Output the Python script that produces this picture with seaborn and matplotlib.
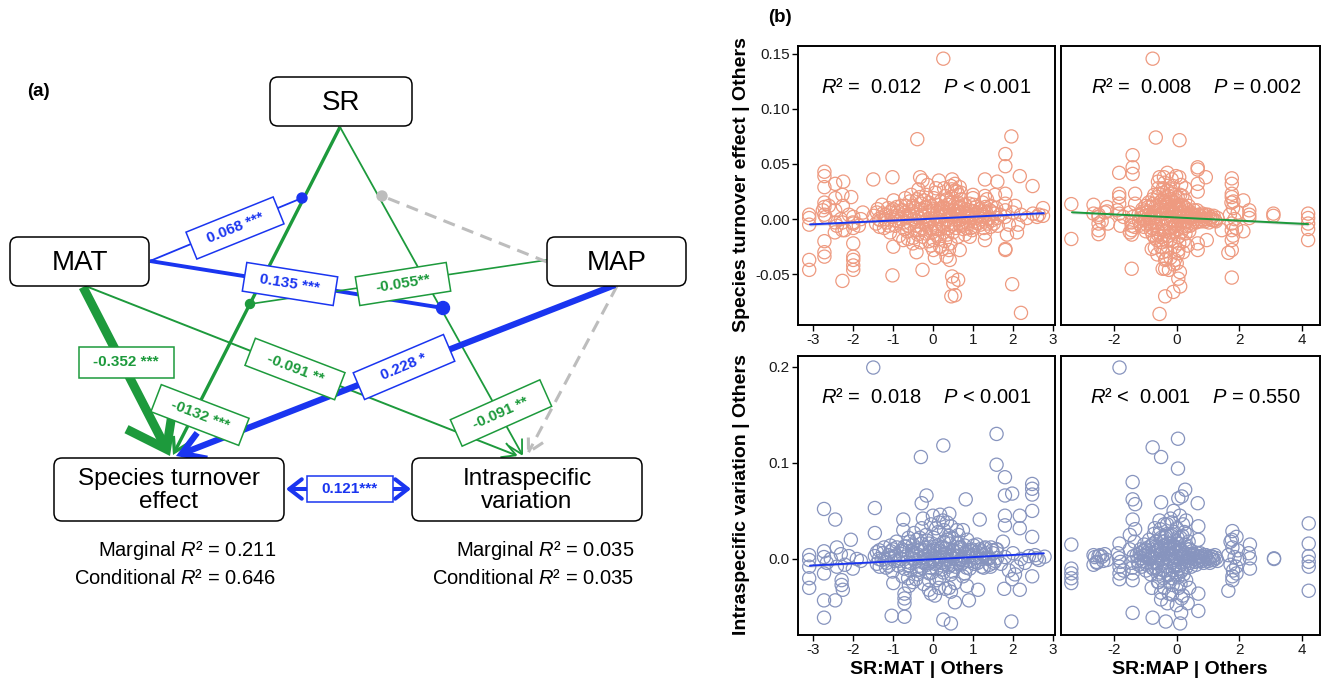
import numpy as np
import pandas as pd
import matplotlib
matplotlib.use("Agg")
import matplotlib.pyplot as plt
import matplotlib.transforms as mtransforms
from matplotlib.patches import FancyBboxPatch, FancyArrowPatch, Rectangle, Circle
import seaborn as sns

# ---------------- data ----------------
# panel (a): path model
node_names = ["SR", "MAT", "MAP", "Species turnover\neffect", "Intraspecific\nvariation"]
path_labels = ["0.068 ***", "0.135 ***", "-0.055**", "-0.352 ***", "-0132 ***",
               "-0.091 **", "0.228 *", "-0.091 **", "0.121***"]
marginal_r2 = ["0.211", "0.035"]
conditional_r2 = ["0.646", "0.035"]

# panel (b): added-variable plots, (x, y)
tl_pts = [
    (0.26, 0.1455), (-0.39, 0.0725), (1.96, 0.075), (1.81, 0.059), (1.81, 0.048), (2.17, 0.039),
    (2.49, 0.030), (1.61, 0.034), (1.30, 0.036), (-2.71, 0.043), (-2.71, 0.039), (-2.71, 0.029),
    (-2.44, 0.032), (-2.24, 0.034), (-2.26, 0.022), (-2.04, 0.020), (-1.49, 0.036), (-1.01, 0.038),
    (-0.32, 0.038), (-0.26, 0.035), (0.48, 0.036), (0.55, 0.032), (0.47, 0.027), (0.60, 0.025),
    (-3.09, 0.004), (-3.09, 0.001), (-3.09, -0.005), (-3.09, -0.037), (-3.09, -0.046),
    (-2.71, -0.020), (-2.71, -0.030), (-2.71, -0.034), (-2.26, -0.056),
    (-1.99, -0.022), (-1.99, -0.034), (-1.99, -0.037), (-1.99, -0.042), (-1.99, -0.046),
    (-1.01, -0.051), (-0.26, -0.046), (0.48, -0.052), (0.51, -0.058), (0.63, -0.055),
    (0.46, -0.070), (0.55, -0.069), (1.81, -0.027), (1.81, -0.028), (1.98, -0.059), (2.2, -0.085),
    (2.13, -0.005), (2.5, 0.005), (2.6, 0.002), (2.65, 0.004), (2.75, 0.010), (2.75, 0.003),
    (1.81, 0.023), (1.81, 0.014), (1.81, 0.008), (1.3, -0.019), (1.3, -0.013), (0.98, -0.010),
    (0.92, -0.016), (-0.99, -0.025), (-0.74, -0.019), (-0.41, -0.030), (0.01, -0.028),
    (0.18, -0.025), (0.34, -0.034), (0.42, -0.037), (0.67, -0.028),
    (-2.71, 0.015), (-2.71, 0.011), (-2.71, 0.004), (-2.68, 0.002), (-2.44, 0.019), (-2.44, 0.008),
    (-2.44, -0.003), (-1.99, 0.002), (-1.99, -0.004), (-1.99, -0.008), (-2.26, -0.003),
    (-2.26, -0.010), (-1.8, 0.0), (-1.75, 0.006), (0.67, 0.029), (0.70, 0.024), (1.0, 0.022),
    (1.0, 0.019), (1.3, 0.021), (1.35, 0.018), (1.55, 0.022),
    (-1.48, 0.003), (-1.42, -0.004), (-1.38, 0.009), (-1.31, -0.001), (-1.27, 0.013), (-1.22, -0.008),
    (-1.18, 0.004), (-1.12, 0.010), (-1.07, -0.012), (-1.03, 0.002), (-0.98, 0.017), (-0.94, -0.006),
    (-0.88, 0.007), (-0.84, -0.015), (-0.79, 0.012), (-0.73, -0.003), (-0.69, 0.019), (-0.64, -0.011),
    (-0.58, 0.005), (-0.54, 0.022), (-0.49, -0.017), (-0.44, 0.010), (-0.41, -0.006), (-0.36, 0.027),
    (-0.31, -0.021), (-0.27, 0.004), (-0.22, 0.017), (-0.18, -0.013), (-0.13, 0.031), (-0.08, -0.002),
    (-0.04, 0.012), (0.02, -0.019), (0.06, 0.024), (0.11, 0.006), (0.14, -0.009), (0.19, 0.016),
    (0.23, -0.027), (0.28, 0.003), (0.31, 0.021), (0.36, -0.014), (0.41, 0.008), (0.44, -0.022),
    (0.49, 0.015), (0.53, -0.004), (0.58, 0.011), (0.62, -0.016), (0.67, 0.005), (0.71, 0.018),
    (0.76, -0.009), (0.82, 0.009), (0.87, -0.004), (0.91, 0.014), (0.96, 0.001), (1.03, -0.007),
    (1.08, 0.011), (1.14, 0.003), (1.19, -0.005), (1.24, 0.015), (1.29, 0.002), (1.36, -0.004),
    (1.42, 0.008), (1.48, -0.001), (1.55, 0.005), (1.62, -0.006), (1.68, 0.004),
    (-0.35, 0.001), (-0.12, -0.004), (0.08, 0.001), (0.27, -0.006), (0.47, 0.002), (-0.55, 0.003),
    (0.65, -0.001), (0.2, 0.009), (-0.2, 0.008), (0.0, 0.005), (0.38, 0.013), (-0.45, -0.01),
    (0.55, 0.026), (-0.05, -0.024), (0.1, -0.015), (0.3, -0.02), (-0.25, -0.016), (0.75, 0.006),
    (-0.7, 0.006), (0.95, -0.008),
    (-2.75, 0.008), (-2.6, 0.012), (-2.4, -0.006), (-2.3, 0.0), (-2.2, -0.01), (-2.1, 0.004),
    (-2.0, -0.003), (-1.85, -0.006), (-2.45, -0.012), (-2.25, 0.012),
    (1.8, 0.002), (1.9, -0.005), (2.0, 0.006), (2.1, -0.012), (2.2, 0.004), (2.35, 0.001),
    (1.85, -0.014), (2.05, 0.012),
    (-1.35, 0.0), (-1.25, 0.005), (-1.15, -0.003), (-1.05, 0.007), (-0.95, -0.001), (-0.9, 0.011),
    (-0.8, 0.0), (-0.75, 0.008), (-0.65, 0.002), (-0.6, -0.006), (-0.5, 0.012), (-0.48, 0.0),
    (-0.4, 0.018), (-0.38, -0.014), (-0.3, 0.009), (-0.28, -0.008), (-0.22, 0.002), (-0.17, 0.022),
    (-0.15, -0.006), (-0.1, 0.015), (-0.02, -0.012), (0.02, 0.019), (0.05, -0.005), (0.12, 0.013),
    (0.16, -0.018), (0.18, 0.002), (0.24, 0.011), (0.26, -0.012), (0.33, 0.006), (0.35, 0.018),
    (0.39, -0.008), (0.43, 0.004), (0.47, 0.02), (0.5, -0.012), (0.52, 0.008), (0.57, -0.008),
    (0.6, 0.003), (0.63, 0.015), (0.69, -0.006), (0.72, 0.01), (0.78, 0.002), (0.8, -0.014),
    (0.85, 0.005), (0.9, -0.002), (0.93, 0.008), (1.0, 0.004), (1.05, -0.002), (1.1, 0.006),
    (1.17, 0.009), (1.22, 0.0), (1.27, -0.008), (1.33, 0.006), (1.4, 0.001), (1.45, 0.012),
    (1.52, -0.004), (1.58, 0.01), (-0.58, 0.016), (-0.62, -0.018), (0.08, 0.028), (0.28, 0.028),
    (-0.1, -0.02), (0.4, -0.028), (-0.33, 0.02), (0.15, 0.035), (0.45, 0.03), (-0.5, -0.022),
    (0.64, 0.022), (0.05, -0.035),
    (-1.4, 0.006), (-1.33, -0.007), (-1.2, 0.0), (-1.1, -0.006), (-1.0, 0.009), (-0.92, 0.003),
    (-0.86, -0.002), (-0.77, 0.004), (-0.71, -0.009), (-0.67, 0.012), (-0.56, -0.004), (-0.52, 0.007),
    (-0.43, -0.002), (-0.39, 0.004), (-0.34, -0.01), (-0.29, 0.014), (-0.24, -0.003), (-0.19, 0.011),
    (-0.14, 0.0), (-0.09, 0.007), (-0.06, -0.008), (0.0, 0.0), (0.04, 0.009), (0.09, -0.009),
    (0.13, 0.0), (0.17, 0.007), (0.21, -0.004), (0.25, 0.004), (0.3, 0.01), (0.34, 0.0),
    (0.37, -0.005), (0.42, 0.015), (0.46, -0.006), (0.51, 0.004), (0.56, 0.0), (0.61, 0.007),
    (0.66, 0.011), (0.7, 0.0), (0.74, -0.004), (0.79, 0.013), (0.84, -0.008), (0.88, 0.002),
    (0.97, 0.007), (1.02, 0.013), (1.07, 0.001), (1.12, -0.004), (1.2, 0.007), (1.26, 0.004),
    (1.31, 0.011), (1.38, 0.0), (1.44, -0.007), (1.5, 0.006), (1.6, 0.001),
]
tr_pts = [
    (-0.77, 0.1455), (-0.67, 0.074), (0.09, 0.0716), (-1.41, 0.058), (-1.41, 0.047), (-1.41, 0.041),
    (-1.84, 0.042), (0.67, 0.047), (0.67, 0.045), (0.93, 0.038), (0.67, 0.032), (0.67, 0.025),
    (1.76, 0.037), (1.76, 0.032), (1.76, 0.023), (1.76, 0.020), (1.81, 0.016), (2.13, 0.017),
    (2.32, 0.008), (2.32, 0.004), (2.32, 0.001), (3.09, 0.005), (3.09, 0.003),
    (4.2, 0.005), (4.2, 0.001), (4.2, -0.004), (4.2, -0.009), (4.2, -0.019),
    (-3.37, 0.0136), (-3.37, -0.018), (-2.66, 0.013), (-2.66, 0.005), (-2.5, 0.002), (-2.5, -0.004),
    (-2.5, -0.010), (-2.5, -0.0136), (-2.23, 0.011), (-2.23, 0.007), (-1.84, 0.023), (-1.84, 0.020),
    (-1.84, 0.014), (-1.84, 0.005), (-1.33, 0.023), (-1.33, 0.014), (-1.44, -0.010), (-1.44, -0.006),
    (-1.44, -0.014), (-1.44, -0.045), (-0.80, -0.027), (-0.70, -0.017), (-0.48, -0.021),
    (-0.37, -0.037), (-0.37, -0.045), (-0.06, -0.037), (0.0, -0.040), (0.05, -0.028),
    (0.05, -0.054), (0.11, -0.061), (-0.11, -0.066), (-0.37, -0.070), (-0.55, -0.086),
    (0.67, -0.022), (0.67, -0.028), (0.96, -0.019), (1.76, -0.010), (1.76, -0.019), (1.65, -0.0305),
    (1.76, -0.028), (1.76, -0.053), (2.13, -0.011), (1.44, -0.010),
    (-1.22, 0.004), (-1.16, -0.005), (-1.1, 0.009), (-1.04, -0.001), (-0.99, -0.011), (-0.95, 0.006),
    (-0.9, 0.015), (-0.86, -0.004), (-0.81, 0.011), (-0.77, -0.014), (-0.72, 0.022), (-0.68, 0.002),
    (-0.63, -0.019), (-0.59, 0.028), (-0.55, 0.008), (-0.51, -0.025), (-0.47, 0.017), (-0.43, -0.007),
    (-0.39, 0.033), (-0.35, 0.001), (-0.31, -0.029), (-0.27, 0.021), (-0.23, -0.012), (-0.19, 0.027),
    (-0.15, 0.004), (-0.11, -0.02), (-0.07, 0.015), (-0.03, -0.004), (0.01, 0.009), (0.05, -0.016),
    (0.09, 0.003), (0.13, 0.013), (0.18, -0.007), (0.23, 0.006), (0.28, -0.013), (0.33, 0.004),
    (0.38, 0.012), (0.43, -0.006), (0.49, 0.002), (0.55, 0.008), (0.62, -0.003), (0.7, 0.004),
    (0.78, -0.002), (0.86, 0.003), (0.95, 0.0), (1.03, -0.003), (1.12, 0.002), (1.22, -0.001),
    (1.3, 0.001),
    (-0.52, 0.0), (-0.33, 0.011), (-0.12, -0.001), (0.08, 0.005), (-0.42, 0.024), (-0.22, -0.019),
    (0.0, -0.009), (0.18, 0.021), (-0.62, -0.009), (0.3, 0.002), (-0.34, -0.036), (-0.1, -0.041),
    (0.04, -0.031), (-0.25, -0.046), (-0.02, 0.039), (-0.41, 0.038), (-0.6, 0.034), (0.14, 0.031),
    (-0.16, 0.036), (-0.28, 0.008), (-0.05, 0.022), (0.22, -0.02), (-0.7, -0.026), (0.35, -0.024),
    (-0.45, -0.045), (0.1, -0.048),
    (-2.5, 0.004), (-2.4, -0.002), (-2.3, 0.006), (-2.2, -0.004), (-1.9, 0.008), (-1.8, -0.006),
    (-1.7, 0.002), (-1.5, 0.006), (-1.45, -0.003), (-1.4, 0.002), (-1.35, -0.007), (-1.5, -0.012),
    (1.7, 0.004), (1.75, -0.004), (1.8, 0.01), (1.85, 0.0), (1.9, -0.008), (1.8, -0.015),
    (1.75, 0.015), (1.95, 0.006),
    (-1.2, -0.002), (-1.12, 0.005), (-1.05, -0.007), (-1.0, 0.012), (-0.92, -0.002), (-0.88, 0.004),
    (-0.83, -0.01), (-0.78, 0.018), (-0.74, 0.006), (-0.7, -0.006), (-0.66, 0.012), (-0.62, 0.02),
    (-0.57, -0.012), (-0.54, 0.015), (-0.5, -0.016), (-0.46, 0.005), (-0.44, 0.028), (-0.4, -0.015),
    (-0.37, 0.016), (-0.33, -0.02), (-0.3, 0.026), (-0.28, -0.004), (-0.24, 0.013), (-0.2, -0.008),
    (-0.18, 0.018), (-0.14, -0.012), (-0.12, 0.03), (-0.08, 0.006), (-0.06, -0.025), (-0.02, 0.017),
    (0.02, -0.002), (0.06, 0.012), (0.08, -0.022), (0.11, 0.022), (0.15, -0.002), (0.2, 0.012),
    (0.24, -0.008), (0.27, 0.017), (0.32, -0.006), (0.36, 0.008), (0.4, -0.011), (0.45, 0.006),
    (0.5, -0.004), (0.58, 0.003), (0.65, 0.008), (0.74, 0.0), (0.82, 0.005), (0.9, -0.002),
    (1.0, 0.004), (1.08, 0.0), (1.18, 0.003), (1.25, -0.002), (-0.55, 0.038), (-0.3, 0.042),
    (-0.2, -0.035), (0.2, -0.03), (-0.62, -0.032), (0.27, 0.028), (-0.45, -0.03), (0.08, 0.038),
    (-1.15, 0.001), (-1.08, 0.007), (-1.02, 0.003), (-0.96, -0.005), (-0.91, 0.011), (-0.85, 0.001),
    (-0.79, -0.008), (-0.75, 0.014), (-0.71, 0.001), (-0.67, -0.003), (-0.64, 0.007), (-0.6, -0.014),
    (-0.56, 0.023), (-0.53, 0.004), (-0.49, 0.011), (-0.45, -0.01), (-0.41, 0.005), (-0.38, 0.02),
    (-0.36, -0.011), (-0.32, 0.006), (-0.29, 0.015), (-0.26, -0.015), (-0.22, 0.009), (-0.18, -0.002),
    (-0.16, 0.023), (-0.13, 0.009), (-0.09, -0.007), (-0.05, 0.011), (-0.01, 0.002), (0.03, 0.02),
    (0.07, -0.006), (0.1, 0.009), (0.14, -0.012), (0.17, 0.007), (0.21, 0.002), (0.25, -0.003),
    (0.29, 0.01), (0.34, -0.002), (0.39, 0.005), (0.44, 0.001), (0.52, 0.004), (0.6, 0.0),
    (0.68, -0.002), (0.76, 0.003), (0.84, 0.0), (0.93, 0.004), (1.05, 0.001), (1.15, -0.001),
]
bl_pts = [
    (-1.49, 0.199), (1.59, 0.130), (0.26, 0.118), (-0.30, 0.106), (1.59, 0.098), (1.80, 0.085),
    (1.98, 0.068), (1.80, 0.066), (2.48, 0.078), (2.48, 0.073), (2.48, 0.067), (2.48, 0.050),
    (2.48, 0.023), (2.48, -0.018), (2.17, 0.045), (2.17, 0.032), (1.80, 0.045), (1.80, 0.035),
    (0.82, 0.062), (-0.16, 0.066), (-0.28, 0.058), (-1.45, 0.053), (-1.45, 0.027), (-2.72, 0.052),
    (-2.44, 0.041), (-2.05, 0.020), (-3.09, 0.004), (-3.09, -0.001), (-3.09, -0.008), (-3.09, -0.020),
    (-3.09, -0.030), (-2.72, -0.015), (-2.72, -0.043), (-2.72, -0.061), (-2.44, -0.043),
    (-2.28, -0.022), (-2.28, -0.027), (-2.25, -0.032), (-1.03, -0.059), (-0.71, -0.060),
    (-0.71, -0.036), (-0.71, -0.041), (-0.71, -0.046), (-0.99, -0.025), (-0.05, -0.036),
    (0.26, -0.063), (0.45, -0.067), (0.55, -0.045), (0.90, -0.043), (1.13, -0.032), (1.78, -0.031),
    (1.96, -0.065), (2.17, -0.032), (1.98, -0.021), (2.79, 0.0024), (2.59, 0.0007), (2.65, -0.001),
    (2.55, 0.004), (-0.74, 0.041), (-0.74, 0.030), (1.17, 0.041), (0.41, 0.047), (0.18, 0.046),
    (-2.72, 0.008), (-2.72, 0.002), (-2.65, -0.004), (-2.55, 0.0), (-2.4, 0.012), (-2.3, 0.005),
    (-2.2, -0.006), (-2.1, 0.003), (-2.0, -0.01), (-1.9, 0.0), (-1.8, -0.002), (-2.4, -0.008),
    (1.6, 0.01), (1.7, -0.005), (1.8, 0.002), (1.9, -0.012), (2.0, 0.006), (2.1, -0.008),
    (2.2, 0.0), (2.3, -0.004), (2.4, 0.003), (1.75, 0.018), (2.05, -0.016),
    (-1.45, 0.003), (-1.4, -0.005), (-1.34, 0.009), (-1.28, -0.001), (-1.22, 0.012), (-1.17, -0.009),
    (-1.11, 0.004), (-1.06, 0.014), (-1.01, -0.013), (-0.96, 0.002), (-0.91, 0.018), (-0.86, -0.007),
    (-0.81, 0.008), (-0.76, -0.018), (-0.71, 0.013), (-0.66, -0.003), (-0.61, 0.022), (-0.56, -0.012),
    (-0.51, 0.006), (-0.47, 0.027), (-0.42, -0.021), (-0.37, 0.011), (-0.33, -0.007), (-0.28, 0.032),
    (-0.23, -0.026), (-0.19, 0.004), (-0.14, 0.019), (-0.09, -0.015), (-0.05, 0.036), (0.0, -0.002),
    (0.04, 0.013), (0.09, -0.022), (0.13, 0.028), (0.18, 0.006), (0.22, -0.011), (0.27, 0.018),
    (0.31, -0.031), (0.36, 0.003), (0.4, 0.024), (0.45, -0.016), (0.5, 0.009), (0.55, -0.025),
    (0.6, 0.017), (0.65, -0.004), (0.7, 0.012), (0.75, -0.018), (0.8, 0.006), (0.86, 0.02),
    (0.92, -0.01), (0.98, 0.01), (1.04, -0.005), (1.1, 0.015), (1.16, 0.002), (1.22, -0.008),
    (1.28, 0.011), (1.34, 0.001), (1.41, -0.006), (1.48, 0.009), (1.55, -0.002),
    (-0.3, 0.001), (-0.1, -0.004), (0.1, 0.002), (0.3, -0.005), (0.5, 0.001), (-0.5, 0.004),
    (0.7, -0.001), (0.2, 0.012), (-0.2, 0.009), (0.05, 0.006), (0.35, 0.038), (-0.4, -0.012),
    (0.6, 0.03), (-0.1, -0.032), (0.15, -0.03), (0.45, -0.034), (-0.25, 0.042), (0.25, 0.04),
    (0.0, 0.045), (-0.6, -0.028), (0.85, -0.028), (0.75, 0.03),
    (-1.35, 0.0), (-1.25, 0.006), (-1.15, -0.004), (-1.05, 0.008), (-0.95, -0.002), (-0.9, 0.012),
    (-0.8, 0.0), (-0.75, 0.009), (-0.65, 0.003), (-0.6, -0.007), (-0.5, 0.015), (-0.48, 0.0),
    (-0.4, 0.02), (-0.38, -0.016), (-0.3, 0.01), (-0.28, -0.009), (-0.22, 0.002), (-0.17, 0.025),
    (-0.15, -0.006), (-0.1, 0.016), (-0.02, -0.014), (0.02, 0.022), (0.05, -0.005), (0.12, 0.014),
    (0.16, -0.02), (0.18, 0.002), (0.24, 0.012), (0.26, -0.014), (0.33, 0.006), (0.35, 0.02),
    (0.39, -0.008), (0.43, 0.004), (0.47, 0.022), (0.5, -0.013), (0.52, 0.008), (0.57, -0.008),
    (0.6, 0.003), (0.63, 0.016), (0.69, -0.006), (0.72, 0.01), (0.78, 0.002), (0.8, -0.015),
    (0.85, 0.005), (0.9, -0.002), (0.93, 0.009), (1.0, 0.004), (1.05, -0.003), (1.1, 0.007),
    (1.17, 0.01), (1.22, 0.0), (1.27, -0.009), (1.33, 0.006), (1.4, 0.001), (1.45, 0.012),
    (1.52, -0.004), (1.58, 0.01), (-0.58, 0.018), (-0.62, -0.02), (0.08, 0.032), (0.28, 0.03),
    (-0.1, -0.022), (0.4, -0.03), (-0.33, 0.022), (0.15, 0.038), (0.45, 0.034), (-0.5, -0.024),
    (0.64, 0.025), (0.05, -0.038),
    (-1.4, 0.007), (-1.33, -0.008), (-1.2, 0.0), (-1.1, -0.007), (-1.0, 0.01), (-0.92, 0.004),
    (-0.86, -0.002), (-0.77, 0.005), (-0.71, -0.01), (-0.67, 0.013), (-0.56, -0.004), (-0.52, 0.008),
    (-0.43, -0.002), (-0.39, 0.005), (-0.34, -0.011), (-0.29, 0.016), (-0.24, -0.003), (-0.19, 0.012),
    (-0.14, 0.0), (-0.09, 0.008), (-0.06, -0.009), (0.0, 0.0), (0.04, 0.01), (0.09, -0.01),
    (0.13, 0.0), (0.17, 0.008), (0.21, -0.004), (0.25, 0.004), (0.3, 0.011), (0.34, 0.0),
    (0.37, -0.006), (0.42, 0.016), (0.46, -0.006), (0.51, 0.004), (0.56, 0.0), (0.61, 0.008),
    (0.66, 0.012), (0.7, 0.0), (0.74, -0.004), (0.79, 0.014), (0.84, -0.009), (0.88, 0.002),
    (0.97, 0.008), (1.02, 0.014), (1.07, 0.001), (1.12, -0.004), (1.2, 0.008), (1.26, 0.004),
    (1.31, 0.012), (1.38, 0.0), (1.44, -0.008), (1.5, 0.006), (1.6, 0.001),
]
br_pts = [
    (-1.83, 0.199), (0.04, 0.125), (-0.77, 0.116), (-0.50, 0.106), (0.04, 0.094), (-1.41, 0.080),
    (-1.41, 0.062), (-1.33, 0.057), (-1.41, 0.041), (-1.33, 0.031), (0.27, 0.072), (0.16, 0.065),
    (0.05, 0.063), (0.67, 0.058), (-0.50, 0.059), (4.22, 0.037), (4.22, 0.016), (4.22, 0.003),
    (4.22, -0.003), (4.22, -0.008), (4.22, -0.033), (3.11, 0.0007), (3.11, 0.0),
    (1.78, 0.029), (1.91, 0.023), (1.76, 0.020), (2.34, 0.015), (2.34, 0.0007), (2.34, -0.010),
    (1.65, -0.033), (1.78, -0.018), (1.78, -0.022), (1.91, -0.015),
    (-3.37, 0.015), (-3.37, -0.010), (-3.37, -0.015), (-3.37, -0.020), (-3.37, -0.025),
    (-2.66, 0.004), (-2.66, -0.006), (-2.39, 0.0024), (-2.23, -0.001), (-2.5, 0.003), (-2.55, -0.004),
    (-1.83, 0.016), (-1.83, -0.008), (-1.83, -0.015), (-1.83, -0.021), (-1.7, -0.012),
    (-1.41, -0.015), (-1.41, -0.022), (-1.41, -0.056), (-0.77, -0.061), (-0.35, -0.065),
    (0.11, -0.067), (0.14, -0.056), (0.69, -0.054), (0.69, -0.036), (0.69, 0.034), (0.69, 0.020),
    (-0.5, -0.035), (-0.15, -0.037), (0.15, -0.041), (0.35, -0.046),
    (-1.28, 0.004), (-1.22, -0.006), (-1.16, 0.01), (-1.1, -0.002), (-1.04, 0.015), (-0.98, -0.012),
    (-0.93, 0.005), (-0.88, 0.02), (-0.83, -0.016), (-0.78, 0.002), (-0.73, 0.026), (-0.68, -0.009),
    (-0.63, 0.012), (-0.58, -0.024), (-0.53, 0.031), (-0.49, -0.003), (-0.44, 0.018), (-0.4, -0.03),
    (-0.35, 0.008), (-0.31, 0.036), (-0.27, -0.017), (-0.22, 0.003), (-0.18, 0.024), (-0.13, -0.027),
    (-0.09, 0.013), (-0.05, -0.006), (0.0, 0.032), (0.04, -0.019), (0.08, 0.007), (0.12, 0.022),
    (0.17, -0.011), (0.21, 0.004), (0.26, 0.015), (0.3, -0.022), (0.35, 0.002), (0.4, 0.01),
    (0.46, -0.008), (0.52, 0.005), (0.58, -0.003), (0.65, 0.006), (0.72, -0.001), (0.79, 0.003),
    (0.86, -0.004), (0.94, 0.002), (1.02, -0.002), (1.1, 0.003), (1.18, -0.001), (1.26, 0.001),
    (-0.45, 0.0), (-0.25, 0.01), (-0.05, -0.001), (0.15, 0.004), (-0.35, 0.024), (-0.15, -0.02),
    (0.05, -0.01), (0.25, 0.028), (-0.6, 0.004), (-0.2, 0.042), (0.1, 0.045), (-0.5, -0.042),
    (-0.3, -0.046), (0.0, -0.048), (0.2, -0.038), (-0.1, 0.05), (0.3, 0.04), (-0.7, 0.032),
    (-0.8, -0.03), (0.4, -0.03),
    (-2.62, 0.002), (-2.56, -0.003), (-2.45, 0.004), (-2.35, -0.002), (-2.3, 0.005), (-1.88, 0.006),
    (-1.8, -0.003), (-1.85, 0.001), (-1.5, 0.01), (-1.45, -0.004), (-1.38, 0.003), (-1.35, 0.018),
    (-1.42, -0.009), (-1.5, 0.025),
    (1.65, 0.004), (1.72, -0.006), (1.78, 0.012), (1.85, 0.002), (1.9, -0.008), (1.95, 0.009),
    (1.72, 0.018), (1.8, -0.012), (2.0, 0.0), (2.3, 0.006),
    (-1.25, -0.002), (-1.18, 0.006), (-1.12, -0.008), (-1.06, 0.004), (-1.0, 0.01), (-0.95, -0.004),
    (-0.9, 0.008), (-0.85, 0.0), (-0.8, 0.014), (-0.75, -0.01), (-0.7, 0.006), (-0.66, 0.018),
    (-0.62, -0.004), (-0.57, 0.01), (-0.54, -0.014), (-0.5, 0.022), (-0.46, 0.006), (-0.42, -0.02),
    (-0.38, 0.014), (-0.34, -0.008), (-0.3, 0.026), (-0.26, 0.0), (-0.22, -0.024), (-0.2, 0.016),
    (-0.16, 0.006), (-0.12, -0.012), (-0.08, 0.028), (-0.04, 0.008), (0.0, -0.016), (0.02, 0.016),
    (0.06, -0.03), (0.1, 0.012), (0.14, -0.004), (0.18, 0.024), (0.22, -0.016), (0.28, 0.006),
    (0.32, -0.008), (0.38, 0.018), (0.42, -0.004), (0.48, 0.008), (0.55, 0.0), (0.62, -0.006),
    (0.68, 0.002), (0.75, 0.006), (0.82, -0.002), (0.9, 0.004), (0.98, 0.0), (1.06, -0.004),
    (1.14, 0.002), (1.22, 0.004), (1.3, -0.002), (-0.4, 0.036), (-0.15, 0.038), (0.2, 0.036),
    (-0.6, -0.024), (-0.25, -0.036), (0.12, -0.026), (-0.55, 0.04), (0.32, 0.026),
    (-1.15, 0.001), (-1.08, 0.008), (-1.02, 0.003), (-0.96, -0.006), (-0.91, 0.012), (-0.85, 0.001),
    (-0.79, -0.009), (-0.75, 0.016), (-0.71, 0.001), (-0.67, -0.003), (-0.64, 0.008), (-0.6, -0.016),
    (-0.56, 0.026), (-0.53, 0.004), (-0.49, 0.012), (-0.45, -0.011), (-0.41, 0.005), (-0.38, 0.022),
    (-0.36, -0.012), (-0.32, 0.006), (-0.29, 0.016), (-0.26, -0.016), (-0.22, 0.01), (-0.18, -0.002),
    (-0.16, 0.026), (-0.13, 0.01), (-0.09, -0.008), (-0.05, 0.012), (-0.01, 0.002), (0.03, 0.022),
    (0.07, -0.007), (0.1, 0.01), (0.14, -0.013), (0.17, 0.008), (0.21, 0.002), (0.25, -0.003),
    (0.29, 0.011), (0.34, -0.002), (0.39, 0.005), (0.44, 0.001), (0.52, 0.004), (0.6, 0.0),
    (0.68, -0.002), (0.76, 0.003), (0.84, 0.0), (0.93, 0.004), (1.05, 0.001), (1.15, -0.001),
]

# fitted lines (x, y, ci half width)
tl_fit_x = [-3.07, -0.2, 2.77]
tl_fit_y = [-0.0048, 0.0001, 0.0054]
tl_fit_ci = [0.0015, 0.0004, 0.0013]
tr_fit_x = [-3.35, 0.0, 4.2]
tr_fit_y = [0.0062, 0.0015, -0.0045]
tr_fit_ci = [0.0013, 0.0004, 0.0016]
bl_fit_x = [-3.07, -0.2, 2.77]
bl_fit_y = [-0.0069, -0.0007, 0.0059]
bl_fit_ci = [0.0016, 0.0005, 0.0015]

stats_text = [r"$R$² =  0.012    $P$ < 0.001", r"$R$² =  0.008    $P$ = 0.002",
              r"$R$² =  0.018    $P$ < 0.001", r"$R$² <  0.001    $P$ = 0.550"]
x_names = ["SR:MAT | Others", "SR:MAP | Others"]
y_names = ["Species turnover effect | Others", "Intraspecific variation | Others"]

# ---------------- style ----------------
sns.set_theme(style="white")
plt.rcParams["font.family"] = ["Liberation Sans", "DejaVu Sans"]
plt.rcParams["mathtext.fontset"] = "custom"
plt.rcParams["mathtext.rm"] = "Liberation Sans"
plt.rcParams["mathtext.it"] = "Liberation Sans:italic"
plt.rcParams["mathtext.bf"] = "Liberation Sans:bold"
plt.rcParams["axes.unicode_minus"] = False
plt.rcParams["text.color"] = "black"

GREEN = "#1d9a3c"
BLUE = "#1a35f0"
GREY = "#bdbdbd"
SALMON = "#ee9a80"
SLATE = "#8794be"

W, H = 1323, 684
fig = plt.figure(figsize=(W / 100, H / 100), dpi=100)

# ---------------- panel (a) ----------------
# axes in pixel units so the diagram can be laid out directly
ax = fig.add_axes([0, 0, 700 / W, 1])
ax.set_xlim(0, 700)
ax.set_ylim(H, 0)
ax.axis("off")

node_boxes = [(270, 77, 142, 49), (10, 237, 139, 49), (547, 237, 139, 49),
              (54, 458, 230, 63), (412, 458, 230, 63)]
node_sizes = [20, 20, 20, 17.5, 17.5]
for name, (x0, y0, w, h), fs in zip(node_names, node_boxes, node_sizes):
    ax.add_patch(FancyBboxPatch((x0, y0), w, h, boxstyle="round,pad=0,rounding_size=8",
                                fc="white", ec="black", lw=1.1, zorder=4))
    ax.text(x0 + w / 2, y0 + h / 2 + 1, name, ha="center", va="center", fontsize=fs,
            linespacing=1.1, zorder=6)


def arrow(p0, p1, color, lw, head=None, ls="-", z=2):
    style = "-" if head is None else f"->,head_length={head[0]},head_width={head[1]}"
    ax.add_patch(FancyArrowPatch(p0, p1, arrowstyle=style, mutation_scale=10, color=color,
                                 lw=lw, ls=ls, shrinkA=0, shrinkB=0, zorder=z,
                                 capstyle="butt", joinstyle="miter"))


def label(cx, cy, w, h, ang, text, color):
    rect = Rectangle((cx - w / 2, cy - h / 2), w, h, fc="white", ec=color, lw=1.1, zorder=5)
    rect.set_transform(mtransforms.Affine2D().rotate_deg_around(cx, cy, -ang) + ax.transData)
    ax.add_patch(rect)
    ax.text(cx, cy, text, rotation=ang, rotation_mode="anchor", ha="center", va="center",
            color=color, fontsize=11, fontweight="bold", zorder=6)


# paths
arrow((340, 127), (173, 455), GREEN, 2.4, head=(1.0, 0.6))
arrow((340, 127), (523, 456), GREEN, 1.3, head=(1.0, 0.55))
arrow((88, 287), (518, 456), GREEN, 1.4, head=(1.0, 0.55))
arrow((83, 287), (170, 456), GREEN, 6.5, head=(2.6, 1.9), z=3)
arrow((615, 285), (176, 456), BLUE, 4.5, head=(1.6, 1.0), z=3)
arrow((617, 286), (527, 455), GREY, 2.2, head=(1.1, 0.6), ls=(0, (4, 2.5)))
arrow((150, 261), (302, 198), BLUE, 1.3)
arrow((150, 261), (443, 308), BLUE, 2.8)
arrow((547, 260), (250, 304), GREEN, 1.2)
arrow((547, 262), (382, 196), GREY, 2.2, ls=(0, (4, 2.5)))
ax.add_patch(FancyArrowPatch((286, 489), (411, 489), arrowstyle="<->,head_length=0.9,head_width=0.7",
                             mutation_scale=10, color=BLUE, lw=2.9, shrinkA=0, shrinkB=0, zorder=3))

# interaction nodes on the SR paths
for (cx, cy), r, c in zip([(302, 198), (443, 308), (382, 196), (250, 304)],
                          [5, 6.5, 5, 4.5], [BLUE, BLUE, GREY, GREEN]):
    ax.add_patch(Circle((cx, cy), r, color=c, zorder=3))

# coefficient boxes
label(235, 228, 94, 29, 22, path_labels[0], BLUE)
label(290, 284, 92, 29, -9, path_labels[1], BLUE)
label(403, 284, 92, 29, 9, path_labels[2], GREEN)
label(126, 362, 95, 31, 0, path_labels[3], GREEN)
label(200, 415, 94, 29, -21, path_labels[4], GREEN)
label(295, 369, 96, 29, -21, path_labels[5], GREEN)
label(404, 367, 98, 29, 23, path_labels[6], BLUE)
label(501, 413, 98, 29, 24, path_labels[7], GREEN)
label(350, 489, 86, 26, 0, path_labels[8], BLUE)

for right, mr, cr in zip([276, 634], marginal_r2, conditional_r2):
    ax.text(right, 550, rf"Marginal $R$² = {mr}", ha="right", va="center", fontsize=14.5)
    ax.text(right, 578, rf"Conditional $R$² = {cr}", ha="right", va="center", fontsize=14.5)

ax.text(38, 91, "(a)", ha="center", va="center", fontsize=13.5, fontweight="bold")

# ---------------- panel (b) ----------------
def add_axes_px(left, top, right, bottom):
    return fig.add_axes([left / W, 1 - bottom / H, (right - left) / W, (bottom - top) / H])


ax_tl = add_axes_px(798, 46, 1055, 325)
ax_tr = add_axes_px(1061, 46, 1320, 325)
ax_bl = add_axes_px(798, 356, 1055, 635)
ax_br = add_axes_px(1061, 356, 1320, 635)

panels = [
    (ax_tl, tl_pts, SALMON, (tl_fit_x, tl_fit_y, tl_fit_ci, BLUE)),
    (ax_tr, tr_pts, SALMON, (tr_fit_x, tr_fit_y, tr_fit_ci, GREEN)),
    (ax_bl, bl_pts, SLATE, (bl_fit_x, bl_fit_y, bl_fit_ci, BLUE)),
    (ax_br, br_pts, SLATE, None),
]
for i, (a, pts, col, fit) in enumerate(panels):
    df = pd.DataFrame(pts, columns=["x", "y"])
    sns.scatterplot(data=df, x="x", y="y", ax=a, s=90, color=col, facecolors="none",
                    edgecolor=col, linewidth=0.9, zorder=2)
    if fit is not None:
        fx, fy, ci, lc = fit
        fy, ci = np.array(fy), np.array(ci)
        a.fill_between(fx, fy - ci, fy + ci, color="#999999", alpha=0.35, lw=0, zorder=3)
        sns.lineplot(x=fx, y=fy, ax=a, color=lc, lw=1.4, zorder=4)
    a.text(0.5 if i % 2 == 0 else 0.52, 0.85, stats_text[i], transform=a.transAxes,
           ha="center", va="center", fontsize=14.5, color="black")
    a.set_xlabel("")
    a.set_ylabel("")
    for sp in a.spines.values():
        sp.set_visible(True)
        sp.set_linewidth(1.4)
        sp.set_color("black")
    a.tick_params(direction="out", length=4, width=1, labelsize=11, pad=2,
                  colors="black", bottom=True, left=True)
    a.tick_params(labelcolor="#1a1a1a")

for a in (ax_tl, ax_bl):
    a.set_xlim(-3.37, 3.05)
    a.set_xticks([-3, -2, -1, 0, 1, 2, 3])
for a in (ax_tr, ax_br):
    a.set_xlim(-3.7, 4.58)
    a.set_xticks([-2, 0, 2, 4])
for a in (ax_tl, ax_tr):
    a.set_ylim(-0.096, 0.157)
for a in (ax_bl, ax_br):
    a.set_ylim(-0.079, 0.211)
ax_tl.set_yticks([-0.05, 0.0, 0.05, 0.10, 0.15])
ax_tl.set_yticklabels(["-0.05", "0.00", "0.05", "0.10", "0.15"])
ax_bl.set_yticks([0.0, 0.1, 0.2])
ax_bl.set_yticklabels(["0.0", "0.1", "0.2"])
for a in (ax_tr, ax_br):
    a.set_yticks([])

fig.text(742 / W, 1 - 185 / H, y_names[0], rotation=90, ha="center", va="center",
         fontsize=14, fontweight="bold")
fig.text(742 / W, 1 - 495 / H, y_names[1], rotation=90, ha="center", va="center",
         fontsize=14, fontweight="bold")
fig.text(927 / W, 1 - 669 / H, x_names[0], ha="center", va="center", fontsize=14, fontweight="bold")
fig.text(1190 / W, 1 - 669 / H, x_names[1], ha="center", va="center", fontsize=14, fontweight="bold")
fig.text(780 / W, 1 - 18 / H, "(b)", ha="center", va="center", fontsize=13.5, fontweight="bold")

fig.savefig("out.png", dpi=100)
